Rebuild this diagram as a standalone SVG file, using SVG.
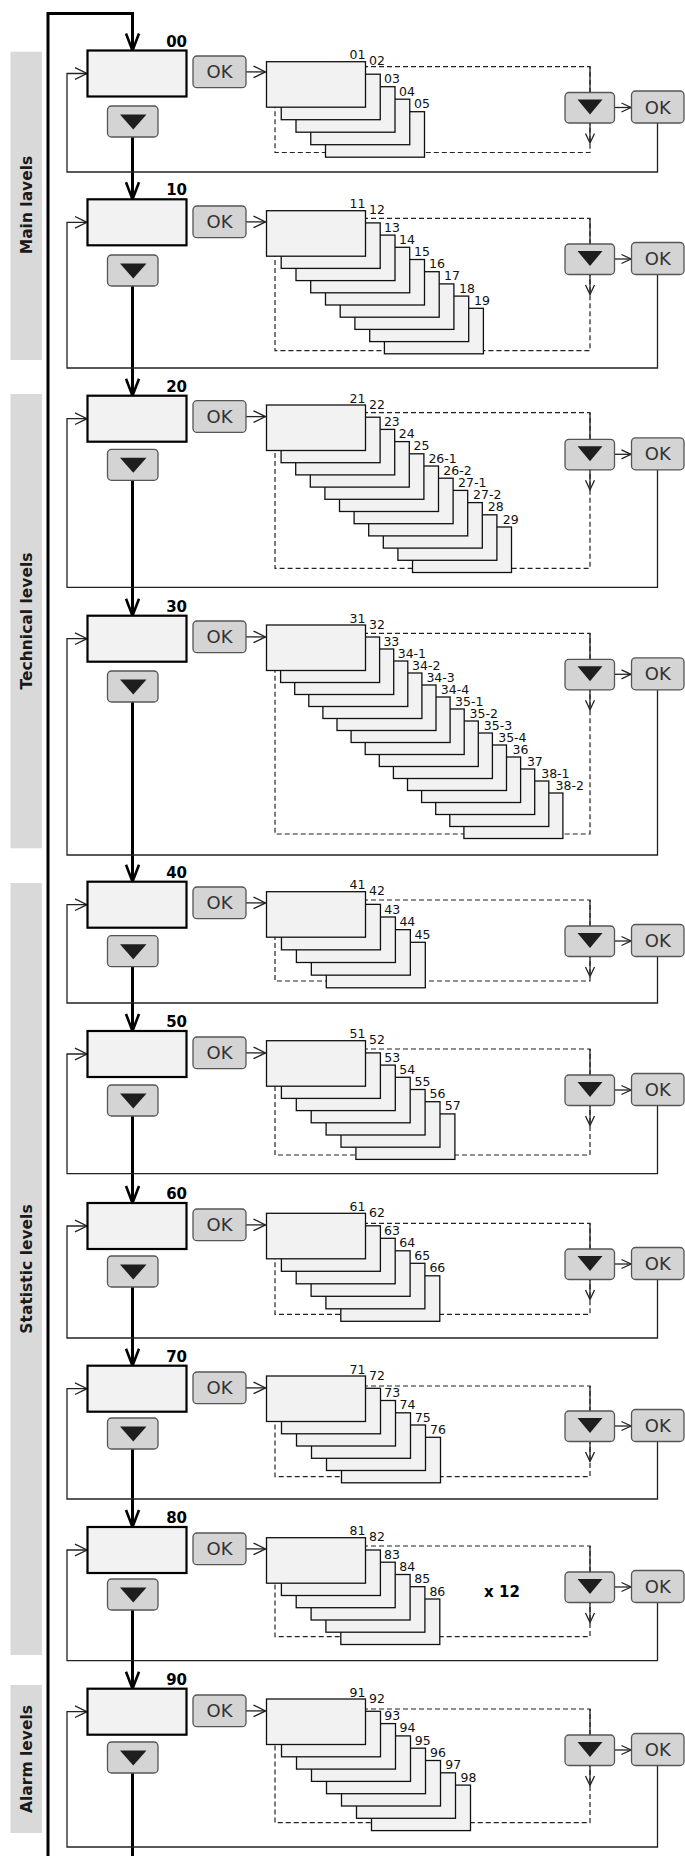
<svg xmlns="http://www.w3.org/2000/svg" width="685" height="1856" viewBox="0 0 685 1856">
<style>
.band{fill:#d9d9d9}
.bl{font-family:"DejaVu Sans",sans-serif;font-weight:bold;font-size:15.5px;fill:#1a1a1a;text-anchor:middle}
.mb{fill:#f2f2f2;stroke:#000;stroke-width:2.2}
.cd{fill:#f2f2f2;stroke:#111;stroke-width:1.3}
.bt{fill:#d4d4d4;stroke:#555;stroke-width:1.3}
.tri{fill:#1e1e1e}
.ok{font-family:"DejaVu Sans",sans-serif;font-size:18px;fill:#333;text-anchor:middle}
.lv{font-family:"DejaVu Sans",sans-serif;font-weight:bold;font-size:15px;fill:#000;text-anchor:end}
.cl{font-family:"DejaVu Sans",sans-serif;font-size:12.5px;fill:#111}
.cle{font-family:"DejaVu Sans",sans-serif;font-size:12.5px;fill:#111;text-anchor:end}
.xt{font-family:"DejaVu Sans",sans-serif;font-weight:bold;font-size:15px;fill:#000;text-anchor:middle}
.ds{fill:none;stroke:#222;stroke-width:1.2;stroke-dasharray:5 3}
.ln{fill:none;stroke:#222;stroke-width:1.3}
.th{fill:none;stroke:#000;stroke-width:3}
</style>
<defs>
<marker id="ah" markerUnits="userSpaceOnUse" viewBox="-20 -9 22 18" markerWidth="22" markerHeight="18" refX="0" refY="0" orient="auto"><path d="M-17,-6.5 L0,0 L-17,6.5" fill="none" stroke="#000" stroke-width="2.6"/></marker>
<marker id="at" markerUnits="userSpaceOnUse" viewBox="-14 -7 16 14" markerWidth="16" markerHeight="14" refX="0" refY="0" orient="auto"><path d="M-12,-5.8 L0,0 L-12,5.8" fill="none" stroke="#222" stroke-width="1.3"/></marker>
<marker id="as" markerUnits="userSpaceOnUse" viewBox="-11 -6 13 12" markerWidth="13" markerHeight="12" refX="0" refY="0" orient="auto"><path d="M-9.5,-4.5 L0,0 L-9.5,4.5" fill="none" stroke="#222" stroke-width="1.3"/></marker>
</defs>

<g id="bands">
<rect class="band" x="10.5" y="51.7" width="31.5" height="308.3"/>
<text class="bl" transform="translate(31.5,205) rotate(-90)">Main lavels</text>
<rect class="band" x="10.5" y="394" width="31.5" height="454.3"/>
<text class="bl" transform="translate(31.5,621) rotate(-90)">Technical levels</text>
<rect class="band" x="10.5" y="883" width="31.5" height="772"/>
<text class="bl" transform="translate(31.5,1269) rotate(-90)">Statistic levels</text>
<rect class="band" x="10.5" y="1685" width="31.5" height="148"/>
<text class="bl" transform="translate(31.5,1759) rotate(-90)">Alarm levels</text>
</g>

<g id="connectors">
<path class="th" d="M48,1856 V13.5 H132.5 V50.5" marker-end="url(#ah)"/>
<path class="th" d="M132.5,137 V199.3" marker-end="url(#ah)"/>
<path class="th" d="M132.5,286 V395.7" marker-end="url(#ah)"/>
<path class="th" d="M132.5,480.3 V615.7" marker-end="url(#ah)"/>
<path class="th" d="M132.5,702 V881.7" marker-end="url(#ah)"/>
<path class="th" d="M132.5,966.7 V1031" marker-end="url(#ah)"/>
<path class="th" d="M132.5,1116 V1203" marker-end="url(#ah)"/>
<path class="th" d="M132.5,1287 V1365.7" marker-end="url(#ah)"/>
<path class="th" d="M132.5,1449 V1527" marker-end="url(#ah)"/>
<path class="th" d="M132.5,1610 V1688.7" marker-end="url(#ah)"/>
<path class="th" d="M132.5,1773 V1856"/>

<!-- section 00 -->
<rect class="ds" x="275" y="66.7" width="315" height="85.8"/>
<path class="ln" d="M246,71.9 H265.5" marker-end="url(#at)"/>
<path class="ln" d="M590,66.7 V92.5"/>
<path class="ln" d="M590,123 V143" marker-end="url(#as)"/>
<path class="ln" d="M614.5,107.5 H631" marker-end="url(#as)"/>
<path class="ln" d="M657.5,123 V172 H67 V73.5 H87" marker-end="url(#at)"/>
<!-- section 10 -->
<rect class="ds" x="275" y="218.3" width="315" height="132.4"/>
<path class="ln" d="M246,221.9 H265.5" marker-end="url(#at)"/>
<path class="ln" d="M590,218.3 V244"/>
<path class="ln" d="M590,274.5 V294.5" marker-end="url(#as)"/>
<path class="ln" d="M614.5,259 H631" marker-end="url(#as)"/>
<path class="ln" d="M657.5,274.5 V368 H67 V222.3 H87" marker-end="url(#at)"/>
<!-- section 20 -->
<rect class="ds" x="275" y="412.7" width="315" height="155.6"/>
<path class="ln" d="M246,416.6 H265.5" marker-end="url(#at)"/>
<path class="ln" d="M590,412.7 V439.3"/>
<path class="ln" d="M590,469.8 V489.8" marker-end="url(#as)"/>
<path class="ln" d="M614.5,454.3 H631" marker-end="url(#as)"/>
<path class="ln" d="M657.5,469.8 V587.3 H67 V418.7 H87" marker-end="url(#at)"/>
<!-- section 30 -->
<rect class="ds" x="275" y="633.3" width="315" height="200.7"/>
<path class="ln" d="M246,636.9 H265.5" marker-end="url(#at)"/>
<path class="ln" d="M590,633.3 V659.3"/>
<path class="ln" d="M590,689.8 V709.8" marker-end="url(#as)"/>
<path class="ln" d="M614.5,674.3 H631" marker-end="url(#as)"/>
<path class="ln" d="M657.5,689.8 V855 H67 V638.7 H87" marker-end="url(#at)"/>
<!-- section 40 -->
<rect class="ds" x="275" y="900" width="315" height="81"/>
<path class="ln" d="M246,902.9 H265.5" marker-end="url(#at)"/>
<path class="ln" d="M590,900 V926"/>
<path class="ln" d="M590,956.5 V976.5" marker-end="url(#as)"/>
<path class="ln" d="M614.5,941 H631" marker-end="url(#as)"/>
<path class="ln" d="M657.5,956.5 V1003 H67 V904.7 H87" marker-end="url(#at)"/>
<!-- section 50 -->
<rect class="ds" x="275" y="1049" width="315" height="106"/>
<path class="ln" d="M246,1052.9 H265.5" marker-end="url(#at)"/>
<path class="ln" d="M590,1049 V1075"/>
<path class="ln" d="M590,1105.5 V1125.5" marker-end="url(#as)"/>
<path class="ln" d="M614.5,1090 H631" marker-end="url(#as)"/>
<path class="ln" d="M657.5,1105.5 V1173.7 H67 V1054 H87" marker-end="url(#at)"/>
<!-- section 60 -->
<rect class="ds" x="275" y="1223.3" width="315" height="91"/>
<path class="ln" d="M246,1224.9 H265.5" marker-end="url(#at)"/>
<path class="ln" d="M590,1223.3 V1249"/>
<path class="ln" d="M590,1279.5 V1299.5" marker-end="url(#as)"/>
<path class="ln" d="M614.5,1264 H631" marker-end="url(#as)"/>
<path class="ln" d="M657.5,1279.5 V1338 H67 V1226 H87" marker-end="url(#at)"/>
<!-- section 70 -->
<rect class="ds" x="275" y="1386" width="315" height="90.7"/>
<path class="ln" d="M246,1387.9 H265.5" marker-end="url(#at)"/>
<path class="ln" d="M590,1386 V1411"/>
<path class="ln" d="M590,1441.5 V1461.5" marker-end="url(#as)"/>
<path class="ln" d="M614.5,1426 H631" marker-end="url(#as)"/>
<path class="ln" d="M657.5,1441.5 V1499 H67 V1388.7 H87" marker-end="url(#at)"/>
<!-- section 80 -->
<rect class="ds" x="275" y="1546" width="315" height="90.7"/>
<path class="ln" d="M246,1548.9 H265.5" marker-end="url(#at)"/>
<path class="ln" d="M590,1546 V1572"/>
<path class="ln" d="M590,1602.5 V1622.5" marker-end="url(#as)"/>
<path class="ln" d="M614.5,1587 H631" marker-end="url(#as)"/>
<path class="ln" d="M657.5,1602.5 V1660.7 H67 V1550 H87" marker-end="url(#at)"/>
<!-- section 90 -->
<rect class="ds" x="275" y="1709" width="315" height="113.7"/>
<path class="ln" d="M246,1710.9 H265.5" marker-end="url(#at)"/>
<path class="ln" d="M590,1709 V1735"/>
<path class="ln" d="M590,1765.5 V1785.5" marker-end="url(#as)"/>
<path class="ln" d="M614.5,1750 H631" marker-end="url(#as)"/>
<path class="ln" d="M657.5,1765.5 V1847 H67 V1711.7 H87" marker-end="url(#at)"/>
</g>

<!-- ===== Section 00 ===== -->
<g id="main-00"><rect class="mb" x="87.5" y="50.5" width="99" height="46"/><text class="lv" x="187" y="46.5">00</text></g>
<g id="ok-00"><rect class="bt" x="193" y="56" width="53" height="31.7" rx="4"/><text class="ok" x="219.5" y="78.3">OK</text></g>
<g id="down-00"><rect class="bt" x="107.5" y="106" width="50.5" height="31" rx="4"/><path class="tri" d="M120,114.5 H146.5 L133.25,129.5 Z"/></g>
<g id="stack-00">
<rect class="cd" x="325.5" y="111.7" width="99" height="45.5"/>
<rect class="cd" x="310.75" y="99.2" width="99" height="45.5"/>
<rect class="cd" x="296" y="86.7" width="99" height="45.5"/>
<rect class="cd" x="281.25" y="74.2" width="99" height="45.5"/>
<rect class="cd" x="266.5" y="61.7" width="99" height="45.5"/>
<text class="cle" x="365.5" y="59.2">01</text>
<text class="cl" x="369" y="65.2">02</text>
<text class="cl" x="384" y="83.2">03</text>
<text class="cl" x="399" y="95.7">04</text>
<text class="cl" x="414" y="108.2">05</text>
</g>
<g id="rdown-00"><rect class="bt" x="565" y="92.5" width="49.5" height="30.5" rx="4"/><path class="tri" d="M577.5,99.5 H602.5 L590,114.5 Z"/></g>
<g id="rok-00"><rect class="bt" x="631.5" y="91" width="52.5" height="32" rx="4"/><text class="ok" x="657.75" y="113.5">OK</text></g>

<!-- ===== Section 10 ===== -->
<g id="main-10"><rect class="mb" x="87.5" y="199.3" width="99" height="46"/><text class="lv" x="187" y="195.3">10</text></g>
<g id="ok-10"><rect class="bt" x="193" y="206" width="53" height="31.7" rx="4"/><text class="ok" x="219.5" y="228.3">OK</text></g>
<g id="down-10"><rect class="bt" x="107.5" y="255" width="50.5" height="31" rx="4"/><path class="tri" d="M120,263.5 H146.5 L133.25,278.5 Z"/></g>
<g id="stack-10">
<rect class="cd" x="384.4" y="308.3" width="99" height="45.5"/>
<rect class="cd" x="369.7" y="296.1" width="99" height="45.5"/>
<rect class="cd" x="354.9" y="283.9" width="99" height="45.5"/>
<rect class="cd" x="340.2" y="271.7" width="99" height="45.5"/>
<rect class="cd" x="325.5" y="259.5" width="99" height="45.5"/>
<rect class="cd" x="310.7" y="247.3" width="99" height="45.5"/>
<rect class="cd" x="296" y="235.1" width="99" height="45.5"/>
<rect class="cd" x="281.2" y="222.9" width="99" height="45.5"/>
<rect class="cd" x="266.5" y="210.7" width="99" height="45.5"/>
<text class="cle" x="365.5" y="208.2">11</text>
<text class="cl" x="369" y="214.2">12</text>
<text class="cl" x="384" y="231.6">13</text>
<text class="cl" x="399" y="243.8">14</text>
<text class="cl" x="414" y="256">15</text>
<text class="cl" x="429" y="268.2">16</text>
<text class="cl" x="444" y="280.4">17</text>
<text class="cl" x="459" y="292.6">18</text>
<text class="cl" x="474" y="304.8">19</text>
</g>
<g id="rdown-10"><rect class="bt" x="565" y="244" width="49.5" height="30.5" rx="4"/><path class="tri" d="M577.5,251 H602.5 L590,266 Z"/></g>
<g id="rok-10"><rect class="bt" x="631.5" y="242.5" width="52.5" height="32" rx="4"/><text class="ok" x="657.75" y="265">OK</text></g>

<!-- ===== Section 20 ===== -->
<g id="main-20"><rect class="mb" x="87.5" y="395.7" width="99" height="46"/><text class="lv" x="187" y="391.7">20</text></g>
<g id="ok-20"><rect class="bt" x="193" y="400.7" width="53" height="31.7" rx="4"/><text class="ok" x="219.5" y="423">OK</text></g>
<g id="down-20"><rect class="bt" x="107.5" y="449.3" width="50.5" height="31" rx="4"/><path class="tri" d="M120,457.8 H146.5 L133.25,472.8 Z"/></g>
<g id="stack-20">
<rect class="cd" x="412.5" y="527" width="99" height="45.5"/>
<rect class="cd" x="397.9" y="514.8" width="99" height="45.5"/>
<rect class="cd" x="383.3" y="502.6" width="99" height="45.5"/>
<rect class="cd" x="368.7" y="490.4" width="99" height="45.5"/>
<rect class="cd" x="354.1" y="478.2" width="99" height="45.5"/>
<rect class="cd" x="339.5" y="466" width="99" height="45.5"/>
<rect class="cd" x="324.9" y="453.8" width="99" height="45.5"/>
<rect class="cd" x="310.3" y="441.6" width="99" height="45.5"/>
<rect class="cd" x="295.7" y="429.4" width="99" height="45.5"/>
<rect class="cd" x="281.1" y="417.2" width="99" height="45.5"/>
<rect class="cd" x="266.5" y="405" width="99" height="45.5"/>
<text class="cle" x="365.5" y="402.5">21</text>
<text class="cl" x="369" y="408.5">22</text>
<text class="cl" x="383.9" y="425.9">23</text>
<text class="cl" x="398.7" y="438.1">24</text>
<text class="cl" x="413.6" y="450.3">25</text>
<text class="cl" x="428.4" y="462.5">26-1</text>
<text class="cl" x="443.3" y="474.7">26-2</text>
<text class="cl" x="458.1" y="486.9">27-1</text>
<text class="cl" x="473" y="499.1">27-2</text>
<text class="cl" x="487.8" y="511.3">28</text>
<text class="cl" x="502.7" y="523.5">29</text>
</g>
<g id="rdown-20"><rect class="bt" x="565" y="439.3" width="49.5" height="30.5" rx="4"/><path class="tri" d="M577.5,446.3 H602.5 L590,461.3 Z"/></g>
<g id="rok-20"><rect class="bt" x="631.5" y="437.8" width="52.5" height="32" rx="4"/><text class="ok" x="657.75" y="460.3">OK</text></g>

<!-- ===== Section 30 ===== -->
<g id="main-30"><rect class="mb" x="87.5" y="615.7" width="99" height="46"/><text class="lv" x="187" y="611.7">30</text></g>
<g id="ok-30"><rect class="bt" x="193" y="621" width="53" height="31.7" rx="4"/><text class="ok" x="219.5" y="643.3">OK</text></g>
<g id="down-30"><rect class="bt" x="107.5" y="671" width="50.5" height="31" rx="4"/><path class="tri" d="M120,679.5 H146.5 L133.25,694.5 Z"/></g>
<g id="stack-30">
<rect class="cd" x="463.9" y="793" width="99" height="45.5"/>
<rect class="cd" x="449.8" y="781" width="99" height="45.5"/>
<rect class="cd" x="435.7" y="769" width="99" height="45.5"/>
<rect class="cd" x="421.6" y="757" width="99" height="45.5"/>
<rect class="cd" x="407.5" y="745" width="99" height="45.5"/>
<rect class="cd" x="393.4" y="733" width="99" height="45.5"/>
<rect class="cd" x="379.3" y="721" width="99" height="45.5"/>
<rect class="cd" x="365.2" y="709" width="99" height="45.5"/>
<rect class="cd" x="351.1" y="697" width="99" height="45.5"/>
<rect class="cd" x="337" y="685" width="99" height="45.5"/>
<rect class="cd" x="322.9" y="673" width="99" height="45.5"/>
<rect class="cd" x="308.8" y="661" width="99" height="45.5"/>
<rect class="cd" x="294.7" y="649" width="99" height="45.5"/>
<rect class="cd" x="280.6" y="637" width="99" height="45.5"/>
<rect class="cd" x="266.5" y="625" width="99" height="45.5"/>
<text class="cle" x="365.5" y="622.5">31</text>
<text class="cl" x="369" y="628.5">32</text>
<text class="cl" x="383.4" y="646">33</text>
<text class="cl" x="397.7" y="658">34-1</text>
<text class="cl" x="412.1" y="670">34-2</text>
<text class="cl" x="426.4" y="682">34-3</text>
<text class="cl" x="440.8" y="694">34-4</text>
<text class="cl" x="455.1" y="706">35-1</text>
<text class="cl" x="469.5" y="718">35-2</text>
<text class="cl" x="483.8" y="730">35-3</text>
<text class="cl" x="498.2" y="742">35-4</text>
<text class="cl" x="512.5" y="754">36</text>
<text class="cl" x="526.9" y="766">37</text>
<text class="cl" x="541.2" y="778">38-1</text>
<text class="cl" x="555.6" y="790">38-2</text>
</g>
<g id="rdown-30"><rect class="bt" x="565" y="659.3" width="49.5" height="30.5" rx="4"/><path class="tri" d="M577.5,666.3 H602.5 L590,681.3 Z"/></g>
<g id="rok-30"><rect class="bt" x="631.5" y="657.8" width="52.5" height="32" rx="4"/><text class="ok" x="657.75" y="680.3">OK</text></g>

<!-- ===== Section 40 ===== -->
<g id="main-40"><rect class="mb" x="87.5" y="881.7" width="99" height="46"/><text class="lv" x="187" y="877.7">40</text></g>
<g id="ok-40"><rect class="bt" x="193" y="887" width="53" height="31.7" rx="4"/><text class="ok" x="219.5" y="909.3">OK</text></g>
<g id="down-40"><rect class="bt" x="107.5" y="935.7" width="50.5" height="31" rx="4"/><path class="tri" d="M120,944.2 H146.5 L133.25,959.2 Z"/></g>
<g id="stack-40">
<rect class="cd" x="326.3" y="942.3" width="99" height="45.5"/>
<rect class="cd" x="311.35" y="929.65" width="99" height="45.5"/>
<rect class="cd" x="296.4" y="917" width="99" height="45.5"/>
<rect class="cd" x="281.45" y="904.35" width="99" height="45.5"/>
<rect class="cd" x="266.5" y="891.7" width="99" height="45.5"/>
<text class="cle" x="365.5" y="889.2">41</text>
<text class="cl" x="369" y="895.2">42</text>
<text class="cl" x="384.2" y="913.5">43</text>
<text class="cl" x="399.4" y="926.2">44</text>
<text class="cl" x="414.6" y="938.8">45</text>
</g>
<g id="rdown-40"><rect class="bt" x="565" y="926" width="49.5" height="30.5" rx="4"/><path class="tri" d="M577.5,933 H602.5 L590,948 Z"/></g>
<g id="rok-40"><rect class="bt" x="631.5" y="924.5" width="52.5" height="32" rx="4"/><text class="ok" x="657.75" y="947">OK</text></g>

<!-- ===== Section 50 ===== -->
<g id="main-50"><rect class="mb" x="87.5" y="1031" width="99" height="46"/><text class="lv" x="187" y="1027">50</text></g>
<g id="ok-50"><rect class="bt" x="193" y="1037" width="53" height="31.7" rx="4"/><text class="ok" x="219.5" y="1059.3">OK</text></g>
<g id="down-50"><rect class="bt" x="107.5" y="1085" width="50.5" height="31" rx="4"/><path class="tri" d="M120,1093.5 H146.5 L133.25,1108.5 Z"/></g>
<g id="stack-50">
<rect class="cd" x="355.9" y="1113.9" width="99" height="45.5"/>
<rect class="cd" x="341" y="1101.7" width="99" height="45.5"/>
<rect class="cd" x="326.1" y="1089.5" width="99" height="45.5"/>
<rect class="cd" x="311.2" y="1077.3" width="99" height="45.5"/>
<rect class="cd" x="296.3" y="1065.1" width="99" height="45.5"/>
<rect class="cd" x="281.4" y="1052.9" width="99" height="45.5"/>
<rect class="cd" x="266.5" y="1040.7" width="99" height="45.5"/>
<text class="cle" x="365.5" y="1038.2">51</text>
<text class="cl" x="369" y="1044.2">52</text>
<text class="cl" x="384.2" y="1061.6">53</text>
<text class="cl" x="399.3" y="1073.8">54</text>
<text class="cl" x="414.5" y="1086">55</text>
<text class="cl" x="429.6" y="1098.2">56</text>
<text class="cl" x="444.8" y="1110.4">57</text>
</g>
<g id="rdown-50"><rect class="bt" x="565" y="1075" width="49.5" height="30.5" rx="4"/><path class="tri" d="M577.5,1082 H602.5 L590,1097 Z"/></g>
<g id="rok-50"><rect class="bt" x="631.5" y="1073.5" width="52.5" height="32" rx="4"/><text class="ok" x="657.75" y="1096">OK</text></g>

<!-- ===== Section 60 ===== -->
<g id="main-60"><rect class="mb" x="87.5" y="1203" width="99" height="46"/><text class="lv" x="187" y="1199">60</text></g>
<g id="ok-60"><rect class="bt" x="193" y="1209" width="53" height="31.7" rx="4"/><text class="ok" x="219.5" y="1231.3">OK</text></g>
<g id="down-60"><rect class="bt" x="107.5" y="1256" width="50.5" height="31" rx="4"/><path class="tri" d="M120,1264.5 H146.5 L133.25,1279.5 Z"/></g>
<g id="stack-60">
<rect class="cd" x="340.8" y="1275.8" width="99" height="45.5"/>
<rect class="cd" x="325.9" y="1263.3" width="99" height="45.5"/>
<rect class="cd" x="311.1" y="1250.8" width="99" height="45.5"/>
<rect class="cd" x="296.2" y="1238.3" width="99" height="45.5"/>
<rect class="cd" x="281.4" y="1225.8" width="99" height="45.5"/>
<rect class="cd" x="266.5" y="1213.3" width="99" height="45.5"/>
<text class="cle" x="365.5" y="1210.8">61</text>
<text class="cl" x="369" y="1216.8">62</text>
<text class="cl" x="384.1" y="1234.8">63</text>
<text class="cl" x="399.2" y="1247.3">64</text>
<text class="cl" x="414.3" y="1259.8">65</text>
<text class="cl" x="429.4" y="1272.3">66</text>
</g>
<g id="rdown-60"><rect class="bt" x="565" y="1249" width="49.5" height="30.5" rx="4"/><path class="tri" d="M577.5,1256 H602.5 L590,1271 Z"/></g>
<g id="rok-60"><rect class="bt" x="631.5" y="1247.5" width="52.5" height="32" rx="4"/><text class="ok" x="657.75" y="1270">OK</text></g>

<!-- ===== Section 70 ===== -->
<g id="main-70"><rect class="mb" x="87.5" y="1365.7" width="99" height="46"/><text class="lv" x="187" y="1361.7">70</text></g>
<g id="ok-70"><rect class="bt" x="193" y="1372" width="53" height="31.7" rx="4"/><text class="ok" x="219.5" y="1394.3">OK</text></g>
<g id="down-70"><rect class="bt" x="107.5" y="1418" width="50.5" height="31" rx="4"/><path class="tri" d="M120,1426.5 H146.5 L133.25,1441.5 Z"/></g>
<g id="stack-70">
<rect class="cd" x="341.5" y="1437.3" width="99" height="45.5"/>
<rect class="cd" x="326.5" y="1425" width="99" height="45.5"/>
<rect class="cd" x="311.5" y="1412.8" width="99" height="45.5"/>
<rect class="cd" x="296.5" y="1400.5" width="99" height="45.5"/>
<rect class="cd" x="281.5" y="1388.3" width="99" height="45.5"/>
<rect class="cd" x="266.5" y="1376" width="99" height="45.5"/>
<text class="cle" x="365.5" y="1373.5">71</text>
<text class="cl" x="369" y="1379.5">72</text>
<text class="cl" x="384.3" y="1397">73</text>
<text class="cl" x="399.5" y="1409.3">74</text>
<text class="cl" x="414.8" y="1421.5">75</text>
<text class="cl" x="430" y="1433.8">76</text>
</g>
<g id="rdown-70"><rect class="bt" x="565" y="1411" width="49.5" height="30.5" rx="4"/><path class="tri" d="M577.5,1418 H602.5 L590,1433 Z"/></g>
<g id="rok-70"><rect class="bt" x="631.5" y="1409.5" width="52.5" height="32" rx="4"/><text class="ok" x="657.75" y="1432">OK</text></g>

<!-- ===== Section 80 ===== -->
<g id="main-80"><rect class="mb" x="87.5" y="1527" width="99" height="46"/><text class="lv" x="187" y="1523">80</text></g>
<g id="ok-80"><rect class="bt" x="193" y="1533" width="53" height="31.7" rx="4"/><text class="ok" x="219.5" y="1555.3">OK</text></g>
<g id="down-80"><rect class="bt" x="107.5" y="1579" width="50.5" height="31" rx="4"/><path class="tri" d="M120,1587.5 H146.5 L133.25,1602.5 Z"/></g>
<g id="stack-80">
<rect class="cd" x="340.8" y="1599" width="99" height="45.5"/>
<rect class="cd" x="325.9" y="1586.7" width="99" height="45.5"/>
<rect class="cd" x="311.1" y="1574.5" width="99" height="45.5"/>
<rect class="cd" x="296.2" y="1562.2" width="99" height="45.5"/>
<rect class="cd" x="281.4" y="1550" width="99" height="45.5"/>
<rect class="cd" x="266.5" y="1537.7" width="99" height="45.5"/>
<text class="cle" x="365.5" y="1535.2">81</text>
<text class="cl" x="369" y="1541.2">82</text>
<text class="cl" x="384.1" y="1558.7">83</text>
<text class="cl" x="399.2" y="1571">84</text>
<text class="cl" x="414.3" y="1583.2">85</text>
<text class="cl" x="429.4" y="1595.5">86</text>
</g>
<text id="x12" class="xt" x="502" y="1597">x 12</text>
<g id="rdown-80"><rect class="bt" x="565" y="1572" width="49.5" height="30.5" rx="4"/><path class="tri" d="M577.5,1579 H602.5 L590,1594 Z"/></g>
<g id="rok-80"><rect class="bt" x="631.5" y="1570.5" width="52.5" height="32" rx="4"/><text class="ok" x="657.75" y="1593">OK</text></g>

<!-- ===== Section 90 ===== -->
<g id="main-90"><rect class="mb" x="87.5" y="1688.7" width="99" height="46"/><text class="lv" x="187" y="1684.7">90</text></g>
<g id="ok-90"><rect class="bt" x="193" y="1695" width="53" height="31.7" rx="4"/><text class="ok" x="219.5" y="1717.3">OK</text></g>
<g id="down-90"><rect class="bt" x="107.5" y="1742" width="50.5" height="31" rx="4"/><path class="tri" d="M120,1750.5 H146.5 L133.25,1765.5 Z"/></g>
<g id="stack-90">
<rect class="cd" x="371.5" y="1785.1" width="99" height="45.5"/>
<rect class="cd" x="356.5" y="1772.8" width="99" height="45.5"/>
<rect class="cd" x="341.5" y="1760.5" width="99" height="45.5"/>
<rect class="cd" x="326.5" y="1748.2" width="99" height="45.5"/>
<rect class="cd" x="311.5" y="1735.9" width="99" height="45.5"/>
<rect class="cd" x="296.5" y="1723.6" width="99" height="45.5"/>
<rect class="cd" x="281.5" y="1711.3" width="99" height="45.5"/>
<rect class="cd" x="266.5" y="1699" width="99" height="45.5"/>
<text class="cle" x="365.5" y="1696.5">91</text>
<text class="cl" x="369" y="1702.5">92</text>
<text class="cl" x="384.3" y="1720.1">93</text>
<text class="cl" x="399.5" y="1732.4">94</text>
<text class="cl" x="414.8" y="1744.7">95</text>
<text class="cl" x="430" y="1757">96</text>
<text class="cl" x="445.3" y="1769.3">97</text>
<text class="cl" x="460.5" y="1781.6">98</text>
</g>
<g id="rdown-90"><rect class="bt" x="565" y="1735" width="49.5" height="30.5" rx="4"/><path class="tri" d="M577.5,1742 H602.5 L590,1757 Z"/></g>
<g id="rok-90"><rect class="bt" x="631.5" y="1733.5" width="52.5" height="32" rx="4"/><text class="ok" x="657.75" y="1756">OK</text></g>
</svg>
